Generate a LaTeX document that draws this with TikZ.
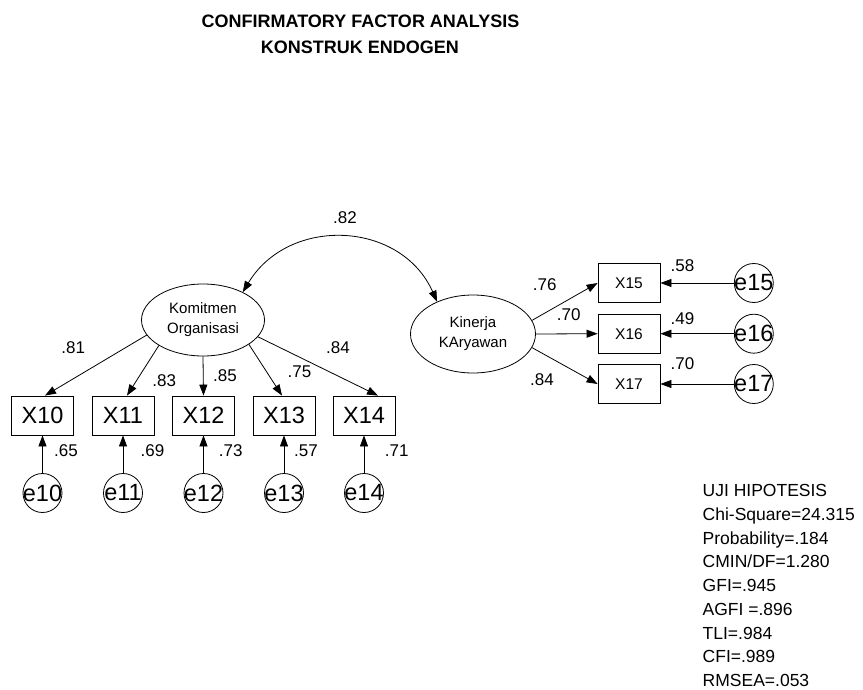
\documentclass[tikz,border=0pt]{standalone}
\usepackage{fontspec}
\setmainfont{Liberation Sans}
\usetikzlibrary{arrows.meta,shapes.geometric}
\begin{document}
\begin{tikzpicture}[x=1pt,y=1pt,
  obs/.style={draw, line width=0.8pt, minimum width=62pt, minimum height=39pt, inner sep=0pt, font=\fontsize{23.5}{26}\selectfont},
  obss/.style={obs, font=\fontsize{15.5}{18}\selectfont},
  lat/.style={draw, ellipse, line width=0.8pt, inner sep=0pt, align=center, font=\fontsize{15}{20}\selectfont},
  err/.style={draw, circle, line width=0.8pt, minimum size=39pt, inner sep=0pt},
  errtxt/.style={font=\fontsize{23.5}{26}\selectfont, inner sep=0pt},
  coef/.style={inner sep=0pt, font=\fontsize{17}{19}\selectfont},
  stat/.style={inner sep=0pt, anchor=base west, font=\fontsize{17.5}{20}\selectfont},
  ttl/.style={inner sep=0pt, font=\fontsize{18}{21}\selectfont\bfseries},
  arr/.style={line width=0.8pt, -{Triangle[length=11pt,width=8pt]}},
  biarr/.style={line width=0.8pt, {Triangle[length=11pt,width=8pt]}-{Triangle[length=11pt,width=8pt]}}
]
\useasboundingbox (0,0) rectangle (863,-690);

% title
\node[ttl] (t1) at (360.5,-21) {CONFIRMATORY FACTOR ANALYSIS};
\node[ttl] (t2) at (360,-47.5) {KONSTRUK ENDOGEN};

% latent variables
\node[lat, minimum width=123pt, minimum height=72pt] (K) at (203,-320) {Komitmen\\Organisasi};
\node[lat, minimum width=125pt, minimum height=78pt] (KA) at (473,-334) {Kinerja\\KAryawan};

% observed variables (left)
\node[obs] (X10) at (42.5,-415.5) {X10};
\node[obs] (X11) at (123,-415.5) {X11};
\node[obs] (X12) at (203.5,-415.5) {X12};
\node[obs] (X13) at (284,-415.5) {X13};
\node[obs] (X14) at (364,-415.5) {X14};

% observed variables (right)
\node[obss] (X15) at (629,-283) {X15};
\node[obss] (X16) at (629,-333.7) {X16};
\node[obss] (X17) at (629,-384) {X17};

% error terms
\node[err, label={[errtxt]center:e10}] (e10) at (42.5,-493) {};
\node[err, label={[errtxt]center:e11}] (e11) at (123,-493) {};
\node[err, label={[errtxt]center:e12}] (e12) at (203.5,-493) {};
\node[err, label={[errtxt]center:e13}] (e13) at (284,-493) {};
\node[err, label={[errtxt]center:e14}] (e14) at (364,-493) {};
\node[err, label={[errtxt]center:e15}] (e15) at (753.8,-283) {};
\node[err, label={[errtxt]center:e16}] (e16) at (753.8,-333.7) {};
\node[err, label={[errtxt]center:e17}] (e17) at (753.8,-384) {};

% loadings
\draw[arr] (K.195) -- ([xshift=2.5pt]X10.north);
\draw[arr] (K.210) -- ([xshift=4pt]X11.north);
\draw[arr] (K.south) -- (X12.north);
\draw[arr] (K.332) -- ([xshift=-2pt]X13.north);
\draw[arr] (K.343) -- ([xshift=14pt]X14.north);
\draw[arr] (KA.13) -- (X15.west);
\draw[arr] (KA.east) -- (X16.west);
\draw[arr] (KA.347) -- (X17.west);

% error paths
\draw[arr] (e10) -- (X10);
\draw[arr] (e11) -- (X11);
\draw[arr] (e12) -- (X12);
\draw[arr] (e13) -- (X13);
\draw[arr] (e14) -- (X14);
\draw[arr] (e15) -- (X15);
\draw[arr] (e16) -- (X16);
\draw[arr] (e17) -- (X17);

% covariance
\draw[biarr] (K.35) to[out=59,in=114,looseness=1.17] (KA.138);

% coefficient labels
\node[coef] (c82) at (345,-218) {.82};
\node[coef] (c81) at (73.3,-347.5) {.81};
\node[coef] (c83) at (164.3,-381) {.83};
\node[coef] (c85) at (225,-376) {.85};
\node[coef] (c75) at (299.5,-372) {.75};
\node[coef] (c84) at (338,-348) {.84};
\node[coef] (c65) at (66,-451) {.65};
\node[coef] (c69) at (152.5,-451) {.69};
\node[coef] (c73) at (230.8,-451) {.73};
\node[coef] (c57) at (306,-451) {.57};
\node[coef] (c71) at (396.7,-451) {.71};
\node[coef] (c76) at (544.7,-284.5) {.76};
\node[coef] (c70a) at (568.7,-315) {.70};
\node[coef] (c84b) at (542,-379.7) {.84};
\node[coef] (c58) at (682.5,-265.5) {.58};
\node[coef] (c49) at (682.5,-318.3) {.49};
\node[coef] (c70b) at (682.5,-364) {.70};

% fit statistics
\node[stat] (s1) at (702.5,-496.7) {UJI HIPOTESIS};
\node[stat] (s2) at (702.5,-520.45) {Chi-Square=24.315};
\node[stat] (s3) at (702.5,-544.2) {Probability=.184};
\node[stat] (s4) at (702.5,-567.95) {CMIN/DF=1.280};
\node[stat] (s5) at (702.5,-591.7) {GFI=.945};
\node[stat] (s6) at (702.5,-615.45) {AGFI =.896};
\node[stat] (s7) at (702.5,-639.2) {TLI=.984};
\node[stat] (s8) at (702.5,-662.95) {CFI=.989};
\node[stat] (s9) at (702.5,-686.7) {RMSEA=.053};
\end{tikzpicture}
\end{document}
